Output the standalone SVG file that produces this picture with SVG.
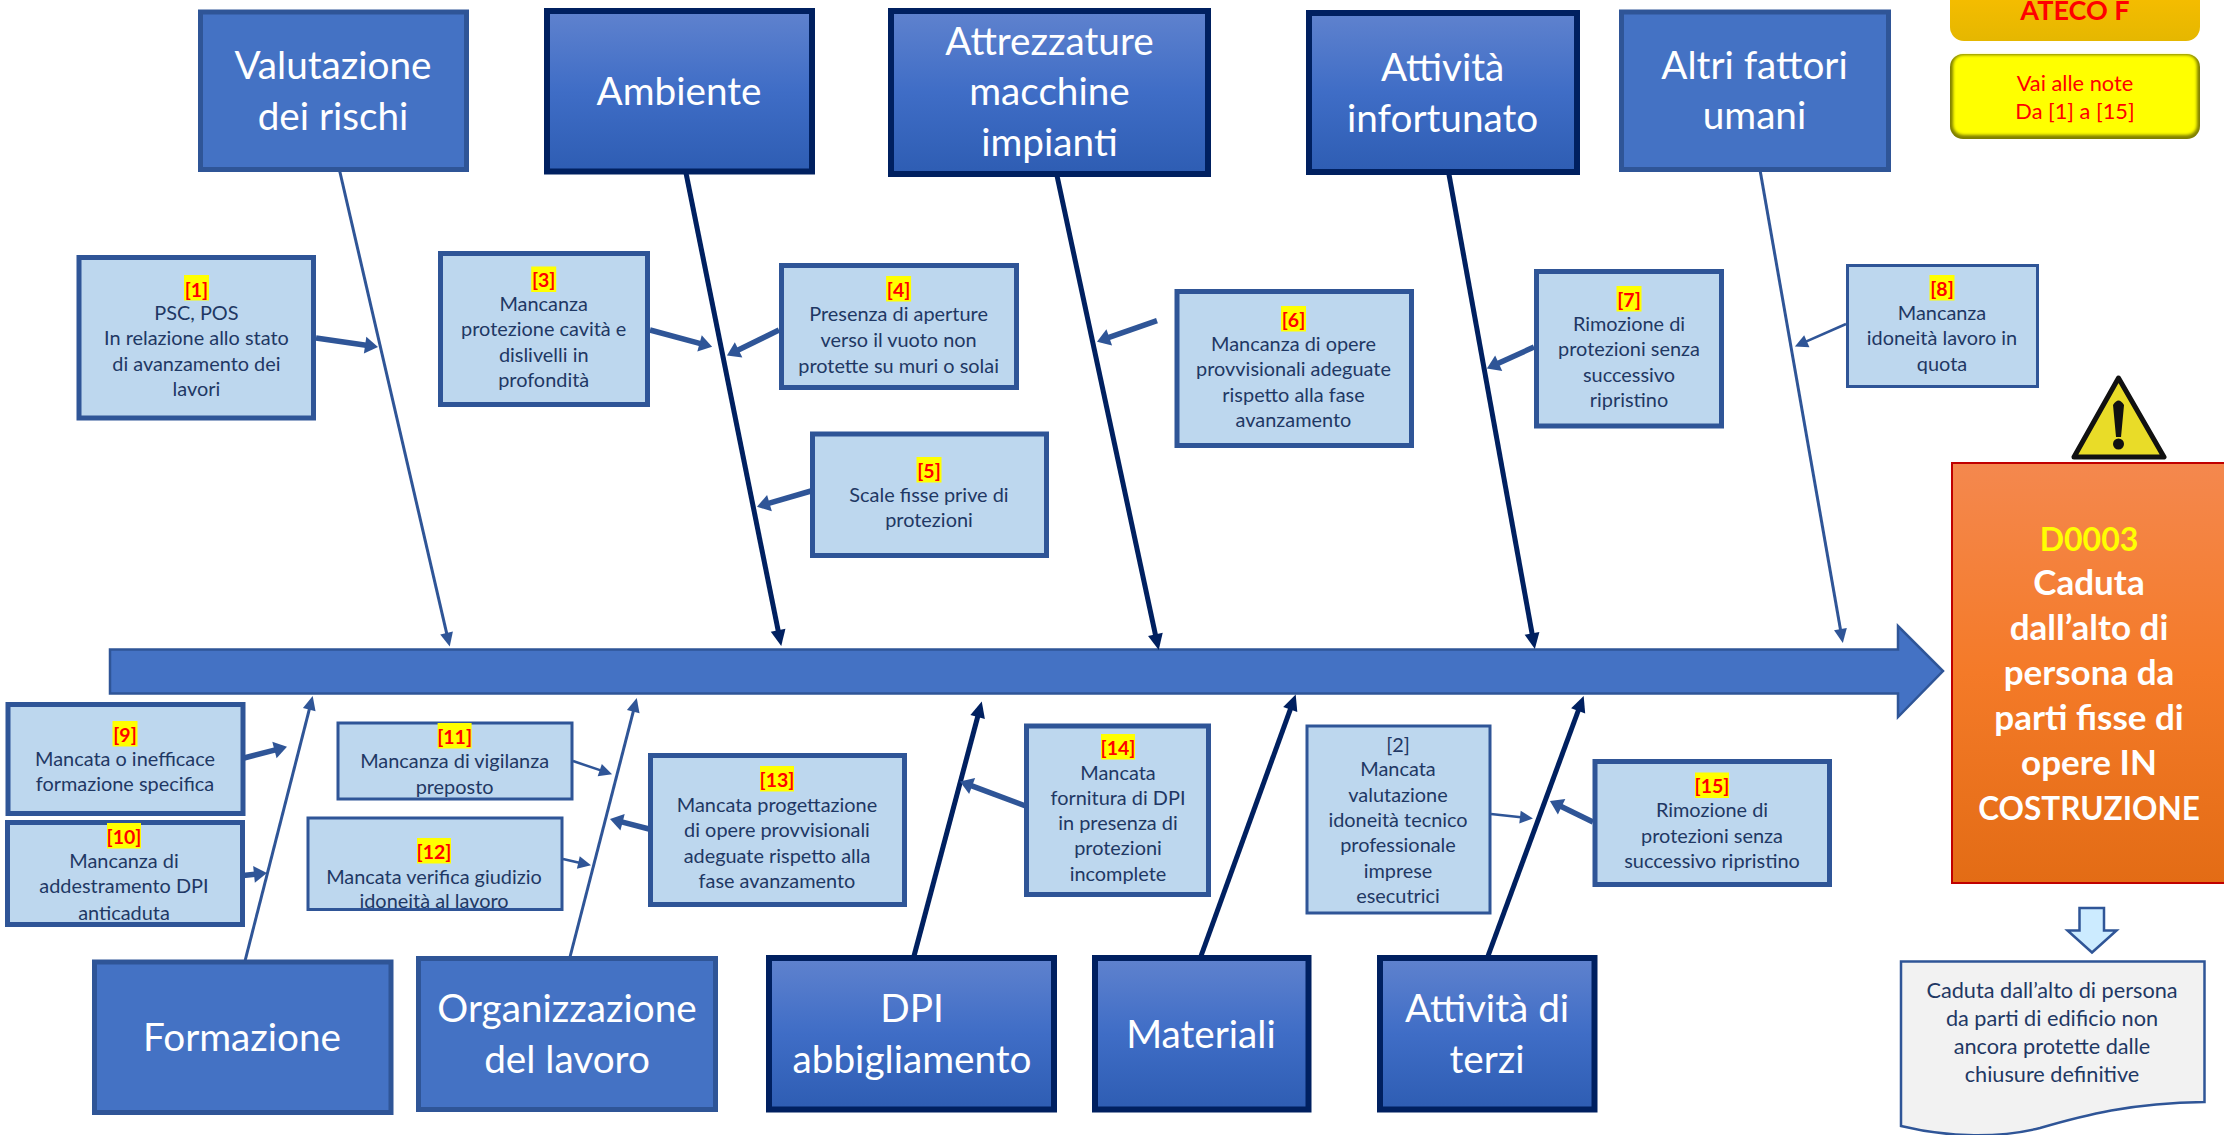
<svg xmlns="http://www.w3.org/2000/svg" width="2224" height="1135" viewBox="0 0 2224 1135">
<style>
text{font-family:"Lato","Carlito","Liberation Sans",sans-serif;text-anchor:middle}
.big{fill:#fff;font-size:38.7px}
.lt{fill:#4472C4;stroke:#2F5597;stroke-width:5}
.dk{fill:url(#gb);stroke:#002060;stroke-width:6}
.s{fill:#BDD7EE;stroke:#2F5597;stroke-width:5}
.st{fill:#BDD7EE;stroke:#2F5597;stroke-width:3}
.t{fill:#1F3864;font-size:19.9px}
.n{fill:#FF0000;font-size:19.5px;font-weight:700}
.hl{fill:#FFFF00}
.lb{fill:none;stroke:#2F5597;stroke-width:3}
.ld{fill:none;stroke:#002060;stroke-width:5}
.ls{fill:none;stroke:#2F5597;stroke-width:5.5}
.lf{fill:none;stroke:#2F5597;stroke-width:2.5}
.o{fill:#fff;font-size:35px;font-weight:700}
.d{fill:#1F3864;font-size:21.7px}
.v{fill:#FF0000;font-size:21.8px}
</style>
<defs>
<linearGradient id="gb" x1="0" y1="0" x2="0" y2="1"><stop offset="0" stop-color="#5F82CE"/><stop offset="0.5" stop-color="#3F6DC6"/><stop offset="1" stop-color="#2E5DB3"/></linearGradient>
<linearGradient id="go" x1="0" y1="0" x2="0" y2="1"><stop offset="0" stop-color="#F4884E"/><stop offset="0.5" stop-color="#F47A28"/><stop offset="1" stop-color="#E36C15"/></linearGradient>
<linearGradient id="ga" x1="0" y1="0" x2="0" y2="1"><stop offset="0" stop-color="#FFC000"/><stop offset="1" stop-color="#E5B700"/></linearGradient>
<filter id="bl" x="-5%" y="-10%" width="110%" height="120%"><feGaussianBlur stdDeviation="1.6"/></filter>
<marker id="ab" markerUnits="userSpaceOnUse" orient="auto" refX="1" refY="0" markerWidth="16" markerHeight="14" overflow="visible"><path d="M0,-6.5L14,0L0,6.5Z" fill="#2F5597"/></marker>
<marker id="ad" markerUnits="userSpaceOnUse" orient="auto" refX="1" refY="0" markerWidth="18" markerHeight="16" overflow="visible"><path d="M0,-7.5L16,0L0,7.5Z" fill="#002060"/></marker>
<marker id="as" markerUnits="userSpaceOnUse" orient="auto" refX="1" refY="0" markerWidth="15" markerHeight="18" overflow="visible"><path d="M0,-8.5L13,0L0,8.5Z" fill="#2F5597"/></marker>
<marker id="af" markerUnits="userSpaceOnUse" orient="auto" refX="1" refY="0" markerWidth="15" markerHeight="14" overflow="visible"><path d="M0,-6.5L13,0L0,6.5Z" fill="#2F5597"/></marker>
</defs>

<g id="spine"><path d="M110,649.5H1898V626L1943,671L1898,717V693.5H110Z" fill="#4472C4" stroke="#2F5597" stroke-width="2.5"/></g>

<g id="connectors">
<line class="lb" x1="339" y1="168" x2="446.8" y2="633.9" marker-end="url(#ab)"/>
<line class="ld" x1="685" y1="168" x2="778.3" y2="631.3" marker-end="url(#ad)"/>
<line class="ld" x1="1056" y1="171" x2="1155.6" y2="635.4" marker-end="url(#ad)"/>
<line class="ld" x1="1448" y1="169" x2="1532.2" y2="634.3" marker-end="url(#ad)"/>
<line class="lb" x1="1759.5" y1="167" x2="1840.6" y2="630.2" marker-end="url(#ab)"/>
<line class="lb" x1="245" y1="961" x2="309.5" y2="708.6" marker-end="url(#ab)"/>
<line class="lb" x1="570" y1="957" x2="633.5" y2="710.6" marker-end="url(#ab)"/>
<line class="ld" x1="914" y1="956" x2="977.9" y2="716" marker-end="url(#ad)"/>
<line class="ld" x1="1201" y1="956" x2="1290.6" y2="708.6" marker-end="url(#ad)"/>
<line class="ld" x1="1488" y1="956" x2="1578.5" y2="710" marker-end="url(#ad)"/>
<line class="ls" x1="316" y1="338" x2="366.1" y2="345.2" marker-end="url(#as)"/>
<line class="ls" x1="650" y1="330" x2="700.5" y2="343.6" marker-end="url(#as)"/>
<line class="ls" x1="779" y1="330" x2="737.7" y2="350.3" marker-end="url(#as)"/>
<line class="ls" x1="811" y1="491" x2="768.5" y2="503.4" marker-end="url(#as)"/>
<line class="ls" x1="1157" y1="320.6" x2="1108.3" y2="337.7" marker-end="url(#as)"/>
<line class="ls" x1="1534" y1="347" x2="1497.8" y2="363.6" marker-end="url(#as)"/>
<line class="ls" x1="244" y1="758" x2="275.4" y2="749.8" marker-end="url(#as)"/>
<line class="ls" x1="243" y1="875.5" x2="255" y2="874.3" marker-end="url(#as)"/>
<line class="ls" x1="649" y1="829" x2="621.6" y2="821.9" marker-end="url(#as)"/>
<line class="ls" x1="1025.6" y1="806" x2="971.2" y2="785.6" marker-end="url(#as)"/>
<line class="ls" x1="1593" y1="822" x2="1560.7" y2="806.3" marker-end="url(#as)"/>
<line class="lf" x1="1846" y1="324" x2="1805.9" y2="341.7" marker-end="url(#af)"/>
<line class="lf" x1="573" y1="761" x2="600.7" y2="770.4" marker-end="url(#af)"/>
<line class="lf" x1="563" y1="859" x2="579.3" y2="862.7" marker-end="url(#af)"/>
<line class="lf" x1="1491" y1="814" x2="1521" y2="817.2" marker-end="url(#af)"/>
</g>

<g id="valutazione"><rect class="lt" x="200.5" y="12" width="266" height="157.5"/><text class="big" x="333" y="79">Valutazione</text><text class="big" x="333" y="130">dei rischi</text></g>
<g id="ambiente"><rect class="dk" x="547" y="11" width="265" height="160.5"/><text class="big" x="679" y="105">Ambiente</text></g>
<g id="attrezzature"><rect class="dk" x="891" y="11" width="317" height="163"/><text class="big" x="1049.5" y="55">Attrezzature</text><text class="big" x="1049.5" y="105">macchine</text><text class="big" x="1049.5" y="156">impianti</text></g>
<g id="attivita-infortunato"><rect class="dk" x="1309" y="13" width="268" height="159"/><text class="big" x="1442.6" y="81">Attività</text><text class="big" x="1442.6" y="131.6">infortunato</text></g>
<g id="altri-fattori"><rect class="lt" x="1621.5" y="12" width="267" height="157.5"/><text class="big" x="1754.5" y="79">Altri fattori</text><text class="big" x="1754.5" y="129.4">umani</text></g>
<g id="ateco"><rect x="1950" y="-30" width="250" height="71" rx="14" fill="url(#ga)"/><text x="2075" y="20" fill="#FF0000" font-size="27" font-weight="700">ATECO F</text></g>
<g id="note"><rect x="1950" y="54" width="250" height="85" rx="13" fill="#7F7F00"/><rect x="1953" y="55" width="244" height="80" rx="10" fill="#FFFF00" filter="url(#bl)"/><text class="v" x="2075" y="91">Vai alle note</text><text class="v" x="2075" y="119">Da [1] a [15]</text></g>

<g id="warning"><path d="M2118.5,378L2164,457H2074Z" fill="#E9DC28" stroke="#111" stroke-width="5" stroke-linejoin="round"/><path d="M2113,405Q2118.5,396 2124,405L2121,437H2116Z" fill="#111"/><circle cx="2118.5" cy="444" r="5.5" fill="#111"/></g>

<g id="effetto"><rect x="1952" y="463" width="280" height="420" fill="url(#go)" stroke="#C00000" stroke-width="2"/>
<text x="2089" y="551" fill="#FFFF00" font-size="32" font-weight="700">D0003</text>
<text class="o" x="2089" y="595">Caduta</text><text class="o" x="2089" y="640">dall’alto di</text><text class="o" x="2089" y="685">persona da</text><text class="o" x="2089" y="730">parti fisse di</text><text class="o" x="2089" y="775">opere IN</text><text class="o" x="2089" y="820" style="font-size:31.5px">COSTRUZIONE</text></g>

<g id="n1"><rect class="s" x="79" y="257.5" width="234.5" height="160.5"/><rect class="hl" x="184" y="275" width="25" height="25.5"/><text class="n" x="196.4" y="297">[1]</text><text class="t" x="196.4" y="320">PSC, POS</text><text class="t" x="196.4" y="345">In relazione allo stato</text><text class="t" x="196.4" y="371">di avanzamento dei</text><text class="t" x="196.4" y="396">lavori</text></g>
<g id="n3"><rect class="s" x="440.5" y="253.5" width="207" height="151"/><rect class="hl" x="531.2" y="266.5" width="25" height="25.5"/><text class="n" x="543.7" y="287">[3]</text><text class="t" x="543.7" y="311">Mancanza</text><text class="t" x="543.7" y="336">protezione cavità e</text><text class="t" x="543.7" y="362">dislivelli in</text><text class="t" x="543.7" y="387">profondità</text></g>
<g id="n4"><rect class="s" x="781.5" y="265.5" width="235" height="122"/><rect class="hl" x="886.1" y="276" width="25" height="25.5"/><text class="n" x="898.6" y="297">[4]</text><text class="t" x="898.6" y="321">Presenza di aperture</text><text class="t" x="898.6" y="347">verso il vuoto non</text><text class="t" x="898.6" y="372.6">protette su muri o solai</text></g>
<g id="n5"><rect class="s" x="812.5" y="434" width="234" height="121.5"/><rect class="hl" x="916.5" y="457" width="25" height="25.5"/><text class="n" x="929" y="478">[5]</text><text class="t" x="929" y="501.6">Scale fisse prive di</text><text class="t" x="929" y="527">protezioni</text></g>
<g id="n6"><rect class="s" x="1177" y="291.5" width="234.5" height="154"/><rect class="hl" x="1281" y="306" width="25" height="25.5"/><text class="n" x="1293.5" y="327">[6]</text><text class="t" x="1293.5" y="351">Mancanza di opere</text><text class="t" x="1293.5" y="376">provvisionali adeguate</text><text class="t" x="1293.5" y="402">rispetto alla fase</text><text class="t" x="1293.5" y="427">avanzamento</text></g>
<g id="n7"><rect class="s" x="1536.5" y="271.5" width="185" height="154.5"/><rect class="hl" x="1616.5" y="286" width="25" height="25.5"/><text class="n" x="1629" y="307">[7]</text><text class="t" x="1629" y="331">Rimozione di</text><text class="t" x="1629" y="356">protezioni senza</text><text class="t" x="1629" y="382">successivo</text><text class="t" x="1629" y="407">ripristino</text></g>
<g id="n8"><rect class="st" x="1847.5" y="265.5" width="190" height="121"/><rect class="hl" x="1929.5" y="275" width="25" height="25.5"/><text class="n" x="1942" y="296">[8]</text><text class="t" x="1942" y="320">Mancanza</text><text class="t" x="1942" y="345">idoneità lavoro in</text><text class="t" x="1942" y="371">quota</text></g>
<g id="n9"><rect class="s" x="8" y="704.5" width="235" height="109"/><rect class="hl" x="112.5" y="721" width="25" height="25.5"/><text class="n" x="125" y="742">[9]</text><text class="t" x="125" y="766">Mancata o inefficace</text><text class="t" x="125" y="791">formazione specifica</text></g>
<g id="n10"><rect class="s" x="7.5" y="822.5" width="235" height="102"/><rect class="hl" x="107" y="823" width="34" height="25.5"/><text class="n" x="124" y="844">[10]</text><text class="t" x="124" y="868">Mancanza di</text><text class="t" x="124" y="893">addestramento DPI</text><text class="t" x="124" y="919.5">anticaduta</text></g>
<g id="n11"><rect class="st" x="338" y="723" width="234" height="76"/><rect class="hl" x="437.6" y="723" width="34" height="25.5"/><text class="n" x="454.6" y="744">[11]</text><text class="t" x="454.6" y="768">Mancanza di vigilanza</text><text class="t" x="454.6" y="794">preposto</text></g>
<g id="n12"><rect class="st" x="308" y="818" width="254" height="91.5"/><rect class="hl" x="417" y="838" width="34" height="25.5"/><text class="n" x="434" y="859">[12]</text><text class="t" x="434" y="883.5">Mancata verifica giudizio</text><text class="t" x="434" y="908">idoneità al lavoro</text></g>
<g id="n13"><rect class="s" x="650.5" y="755.5" width="254" height="149"/><rect class="hl" x="760" y="766" width="34" height="25.5"/><text class="n" x="777" y="787">[13]</text><text class="t" x="777" y="812">Mancata progettazione</text><text class="t" x="777" y="837">di opere provvisionali</text><text class="t" x="777" y="863">adeguate rispetto alla</text><text class="t" x="777" y="888">fase avanzamento</text></g>
<g id="n14"><rect class="s" x="1026.5" y="726" width="182" height="168.5"/><rect class="hl" x="1101" y="734" width="34" height="25.5"/><text class="n" x="1118" y="755">[14]</text><text class="t" x="1118" y="780">Mancata</text><text class="t" x="1118" y="805">fornitura di DPI</text><text class="t" x="1118" y="830">in presenza di</text><text class="t" x="1118" y="855">protezioni</text><text class="t" x="1118" y="880.6">incomplete</text></g>
<g id="n2"><rect class="st" x="1307" y="726" width="183" height="187"/><text class="t" x="1398" y="752">[2]</text><text class="t" x="1398" y="776">Mancata</text><text class="t" x="1398" y="802">valutazione</text><text class="t" x="1398" y="827">idoneità tecnico</text><text class="t" x="1398" y="852">professionale</text><text class="t" x="1398" y="878">imprese</text><text class="t" x="1398" y="903">esecutrici</text></g>
<g id="n15"><rect class="s" x="1595" y="761.5" width="234.5" height="123"/><rect class="hl" x="1695" y="772.5" width="34" height="25.5"/><text class="n" x="1712" y="793">[15]</text><text class="t" x="1712" y="817">Rimozione di</text><text class="t" x="1712" y="843">protezioni senza</text><text class="t" x="1712" y="868">successivo ripristino</text></g>

<g id="formazione"><rect class="lt" x="94.5" y="962" width="296.5" height="150.5"/><text class="big" x="242" y="1051">Formazione</text></g>
<g id="organizzazione"><rect class="lt" x="418.5" y="958.5" width="297" height="151"/><text class="big" x="567" y="1022">Organizzazione</text><text class="big" x="567" y="1073">del lavoro</text></g>
<g id="dpi"><rect class="dk" x="769" y="958" width="285" height="151.5"/><text class="big" x="912" y="1022">DPI</text><text class="big" x="912" y="1073">abbigliamento</text></g>
<g id="materiali"><rect class="dk" x="1095" y="958" width="213.5" height="151.5"/><text class="big" x="1201" y="1048">Materiali</text></g>
<g id="attivita-terzi"><rect class="dk" x="1380" y="958" width="214.5" height="151.5"/><text class="big" x="1487" y="1022">Attività di</text><text class="big" x="1487" y="1073">terzi</text></g>

<g id="freccia-giu"><path d="M2079.5,908H2104V930.5H2116.5L2092,952.5L2067.5,930.5H2079.5Z" fill="#CCEBFF" stroke="#2F5597" stroke-width="2.5"/></g>
<g id="documento"><path d="M1901,961.5H2204.5V1102C2130,1103 2085,1115 2040,1128C2000,1138 1950,1138 1901,1126Z" fill="#F2F2F2" stroke="#2F5597" stroke-width="2.5"/>
<text class="d" x="2052" y="998">Caduta dall’alto di persona</text><text class="d" x="2052" y="1026">da parti di edificio non</text><text class="d" x="2052" y="1053.5">ancora protette dalle</text><text class="d" x="2052" y="1081.6">chiusure definitive</text></g>
</svg>
